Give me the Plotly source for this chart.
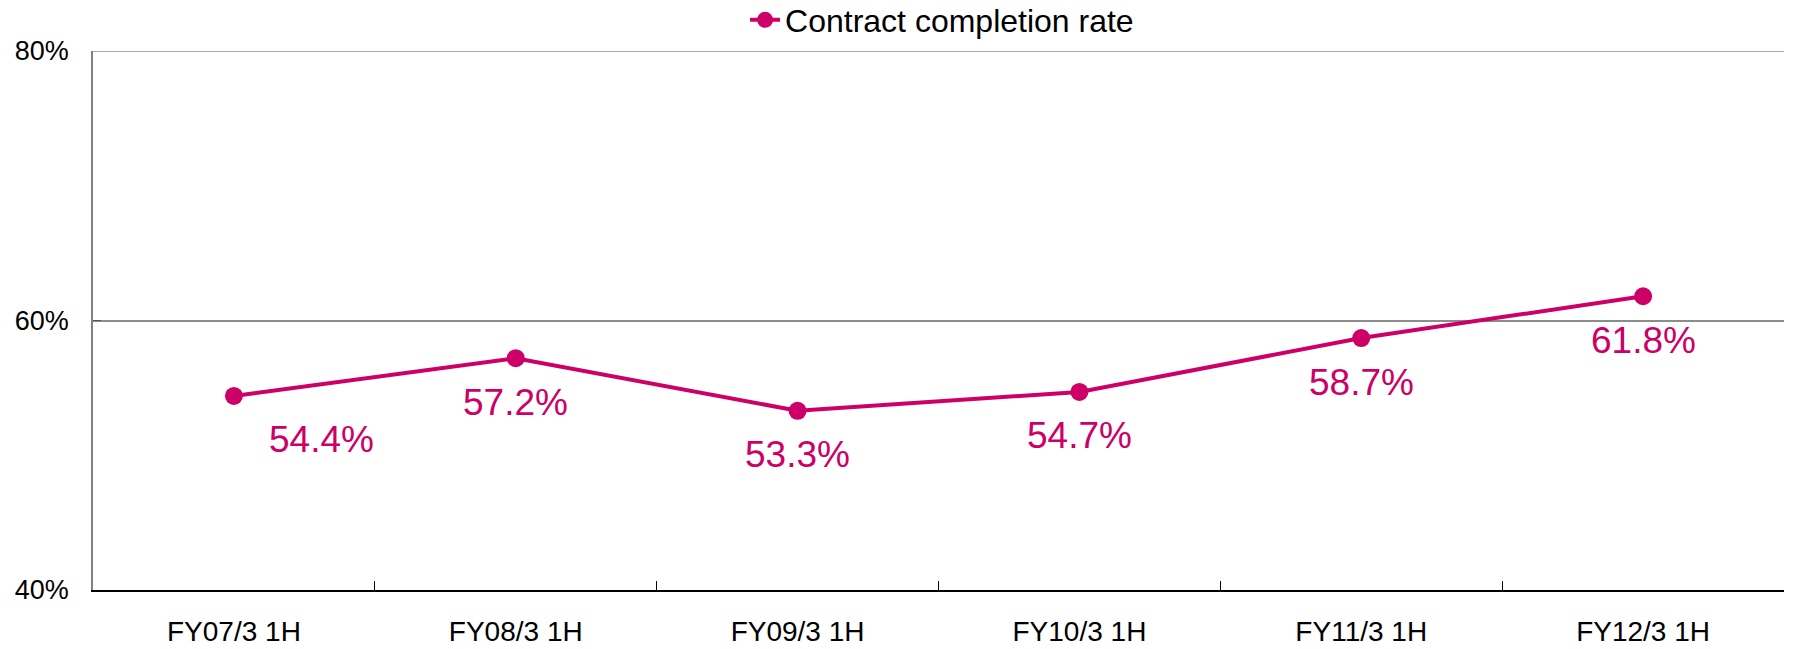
import plotly.graph_objects as go

categories = ["FY07/3 1H", "FY08/3 1H", "FY09/3 1H", "FY10/3 1H", "FY11/3 1H", "FY12/3 1H"]
completion_rate = [54.4, 57.2, 53.3, 54.7, 58.7, 61.8]
y_ticks = [40, 60, 80]
y_tick_labels = ["40%", "60%", "80%"]
series_name = "Contract completion rate"

COLOR = "#CC0066"
GRID = "#8c8c8c"
FONT = "Liberation Sans, Arial, sans-serif"

fig = go.Figure()
fig.add_trace(go.Scatter(
    x=categories, y=completion_rate, mode="lines+markers", name=series_name,
    line=dict(color=COLOR, width=4),
    marker=dict(color=COLOR, size=18),
    cliponaxis=False,
))

# data labels (first one sits to the right, others directly below)
label_shift_x = [88, 0, 0, 0, 0, 0]
for i, (c, v) in enumerate(zip(categories, completion_rate)):
    fig.add_annotation(
        x=c, y=v, text=f"{v:.1f}%", showarrow=False,
        xshift=label_shift_x[i], yshift=-44,
        font=dict(family=FONT, size=37, color=COLOR),
    )

# top gridline (plotly skips the gridline at the range edge)
fig.add_shape(type="line", xref="paper", x0=0, x1=1, yref="y",
              y0=y_ticks[-1], y1=y_ticks[-1], line=dict(color=GRID, width=1.5),
              layer="below")

fig.update_layout(
    width=1816, height=649,
    margin=dict(l=93, r=32, t=51, b=59, autoexpand=False),
    paper_bgcolor="white", plot_bgcolor="white",
    font=dict(family=FONT, color="black"),
    showlegend=True,
    legend=dict(
        orientation="h", x=0.3856, xanchor="left", y=1.0575, yanchor="middle",
        font=dict(family=FONT, size=32, color="black"),
        bgcolor="rgba(0,0,0,0)",
    ),
)
fig.update_xaxes(
    type="category", showgrid=False,
    showline=True, linecolor="black", linewidth=1.5,
    ticks="inside", tickson="boundaries", ticklen=9, tickcolor="black", tickwidth=1,
    tickfont=dict(family=FONT, size=28, color="black"),
    ticklabelstandoff=16,
    range=[-0.5, 5.5],
)
fig.update_yaxes(
    range=[40, 80], tickmode="array", tickvals=y_ticks, ticktext=y_tick_labels,
    showgrid=True, gridcolor=GRID, gridwidth=1.5,
    showline=True, linecolor="#808080", linewidth=1.5,
    ticks="inside", ticklen=8, tickcolor="#555555",
    tickfont=dict(family=FONT, size=27, color="black"),
    ticklabelstandoff=17,
    zeroline=False,
)

fig.write_html("out.html", config={"displayModeBar": False},
               post_script="document.body.style.margin='0';")
